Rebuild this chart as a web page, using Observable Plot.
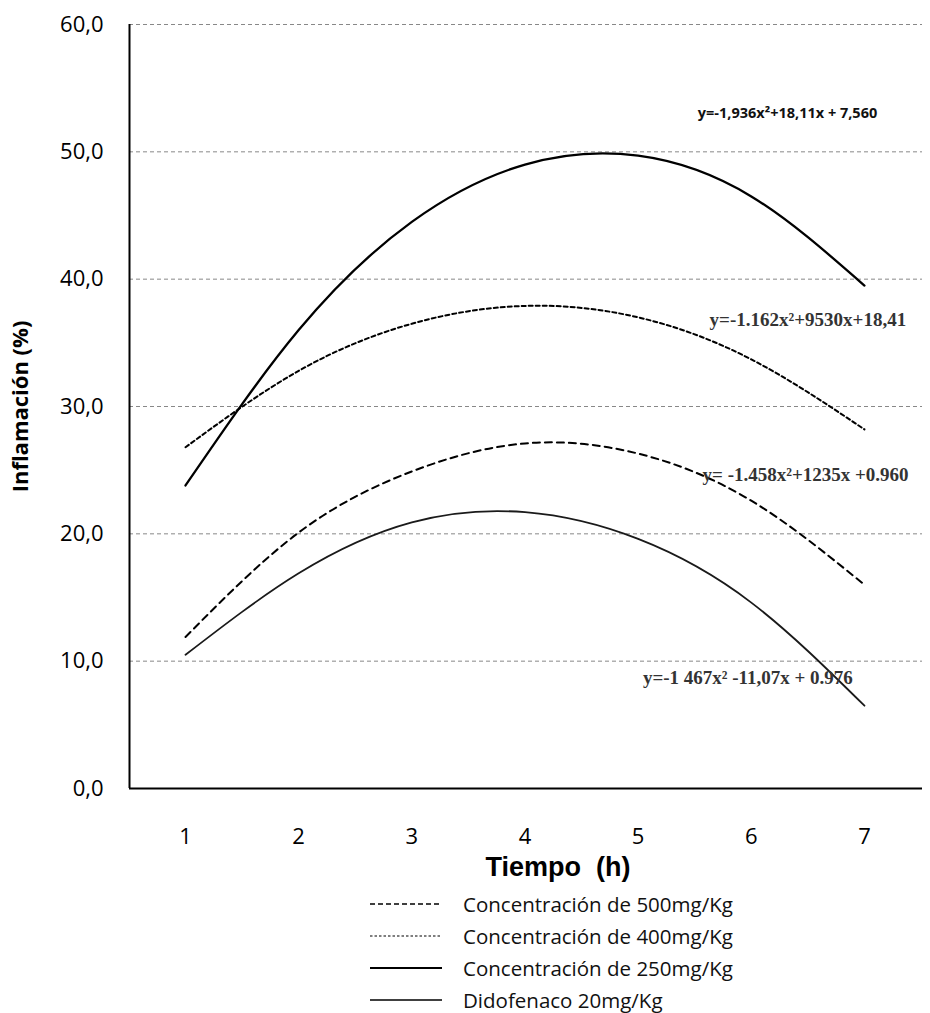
<!DOCTYPE html>
<html>
<head>
<meta charset="utf-8">
<script src="https://cdn.jsdelivr.net/npm/d3@7"></script>
<script src="https://cdn.jsdelivr.net/npm/@observablehq/plot@0.6"></script>
<style>
  html, body { margin: 0; padding: 0; background: #fff; }
  #wrap { position: relative; width: 930px; height: 1013px; }
  #legend { position: absolute; left: 370px; top: 888px; font-family: "Open Sans", Lato, sans-serif; font-size: 20.5px; color: #111; }
  .row { display: flex; align-items: center; height: 32px; }
  .row svg { width: 72px; height: 10px; margin-right: 21px; }
</style>
</head>
<body>
<div id="wrap"><div id="chart"></div><div id="legend"></div></div>
<script>
// Data
const times = [1, 2, 3, 4, 5, 6, 7];
const c500 = [11.9, 20.1, 24.9, 27.1, 26.3, 22.6, 16.0];
const c400 = [26.8, 32.8, 36.5, 37.9, 37.0, 33.7, 28.2];
const c250 = [23.8, 36.0, 44.5, 49.0, 49.7, 46.5, 39.5];
const diclo = [10.5, 16.9, 20.9, 21.7, 19.6, 14.6, 6.5];
const seriesNames = [
  "Concentración de 500mg/Kg",
  "Concentración de 400mg/Kg",
  "Concentración de 250mg/Kg",
  "Didofenaco 20mg/Kg"
];
const equations = [
  "y= -1.458x²+1235x +0.960",
  "y=-1.162x²+9530x+18,41",
  "y=-1,936x²+18,11x + 7,560",
  "y=-1 467x² -11,07x + 0.976"
];
const yTicks = [0, 10, 20, 30, 40, 50, 60];
const gridTicks = [10, 20, 30, 40, 50, 60];
const xTicks = [1, 2, 3, 4, 5, 6, 7];
const xTitle = "Tiempo  (h)";
const yTitle = "Inflamación (%)";

const allValues = [c500, c400, c250, diclo];
const rows = [];
allValues.forEach((vals, i) => vals.forEach((v, j) => rows.push({series: seriesNames[i], t: times[j], v})));
const bySeries = name => rows.filter(r => r.series === name);

const xDomain = [0.505, 7.513];

// label anchors (data units) for the equations, one per series
const eqAnchors = [
  {x: 6.48, y: 24.6},
  {x: 6.50, y: 36.8},
  {x: 6.32, y: 53.0},
  {x: 5.97, y: 8.7}
];
const eqRows = equations.map((text, i) => ({text, ...eqAnchors[i], serif: i !== 2}));

const styles = [
  {strokeDasharray: "7,5", strokeWidth: 2},
  {strokeDasharray: "4,3", strokeWidth: 2},
  {strokeDasharray: null, strokeWidth: 2.3},
  {strokeDasharray: null, strokeWidth: 1.8}
];

const chart = Plot.plot({
  width: 930,
  height: 888,
  marginTop: 24,
  marginBottom: 100,
  marginLeft: 129,
  marginRight: 8,
  x: {domain: xDomain},
  y: {domain: [0, 60]},
  style: {fontFamily: "'Open Sans', Lato, sans-serif", background: "#fff", color: "#000"},
  marks: [
    Plot.ruleY(gridTicks, {stroke: "#888", strokeWidth: 1, strokeDasharray: "4,3"}),
    Plot.ruleY([0], {stroke: "#000", strokeWidth: 2}),
    Plot.ruleX([xDomain[0]], {stroke: "#000", strokeWidth: 2}),
    Plot.axisY(yTicks, {tickSize: 0, tickPadding: 26, fontSize: 22, label: null,
      tickFormat: d => d.toFixed(1).replace(".", ",")}),
    Plot.axisX(xTicks, {tickSize: 0, tickPadding: 40, fontSize: 22, label: null, tickFormat: d => String(d)}),
    ...seriesNames.map((name, i) => Plot.line(bySeries(name), {
      x: "t", y: "v", curve: "natural", stroke: i === 3 ? "#1a1a1a" : "#000",
      strokeWidth: styles[i].strokeWidth, strokeDasharray: styles[i].strokeDasharray
    })),
    Plot.text(eqRows.filter(d => d.serif), {x: "x", y: "y", text: "text", fontSize: 19,
      fontFamily: "'Liberation Serif', serif", fontWeight: "bold", fill: "#333", letterSpacing: "2px"}),
    Plot.text(eqRows.filter(d => !d.serif), {x: "x", y: "y", text: "text", fontSize: 14.5,
      fontFamily: "'Open Sans', sans-serif", fontWeight: "bold", fill: "#111"}),
    Plot.text([xTitle], {text: d => d, frameAnchor: "bottom", dx: 32, dy: 79, lineAnchor: "middle",
      fontSize: 27, fontWeight: "bold", fontFamily: "'Liberation Sans', Arial, sans-serif"}),
    Plot.text([yTitle], {text: d => d, frameAnchor: "left", dx: -109, rotate: -90, textAnchor: "middle",
      fontSize: 22, fontWeight: "bold", fontFamily: "'Open Sans', sans-serif"})
  ]
});
document.getElementById("chart").appendChild(chart);

// Legend
const legend = d3.select("#legend");
seriesNames.forEach((name, i) => {
  const row = legend.append("div").attr("class", "row");
  const svg = row.append("svg");
  svg.append("line").attr("x1", 0).attr("x2", 72).attr("y1", 5).attr("y2", 5)
    .attr("stroke", "#000")
    .attr("stroke-width", [1.4, 1.1, 2.2, 1.3][i])
    .attr("stroke-dasharray", ["5,3", "2.5,2", null, null][i]);
  row.append("span").text(name);
});
</script>
</body>
</html>
